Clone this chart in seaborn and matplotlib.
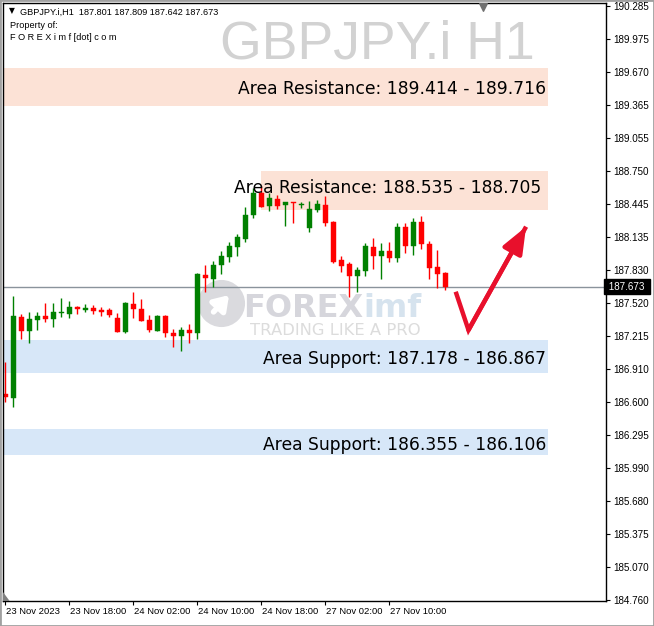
import matplotlib
matplotlib.use("Agg")
import matplotlib.pyplot as plt
import matplotlib.transforms as mtransforms
from matplotlib.patches import Rectangle, Polygon
import pandas as pd
import seaborn as sns

# GBPJPY.i H1 candles (bar 0 = 23 Nov 10:00)
opens = [186.676, 186.634, 187.389, 187.265, 187.364, 187.401, 187.376, 187.432,
         187.423, 187.488, 187.460, 187.476, 187.460, 187.457, 187.383, 187.255,
         187.516, 187.466, 187.364, 187.265, 187.401, 187.240, 187.218, 187.271,
         187.240, 187.783, 187.748, 187.879, 187.953, 188.046, 188.115, 188.341,
         188.543, 188.425, 188.487, 188.434, 188.459, 188.431, 188.217, 188.387,
         188.434, 188.279, 187.922, 187.885, 187.776, 187.823, 188.046, 187.959,
         188.006, 187.944, 188.226, 188.052, 188.279, 188.071, 187.854, 187.801]
highs = [186.976, 187.590, 187.420, 187.436, 187.436, 187.519, 187.525, 187.566,
         187.541, 187.494, 187.513, 187.504, 187.485, 187.473, 187.426, 187.531,
         187.625, 187.559, 187.411, 187.406, 187.406, 187.278, 187.296, 187.327,
         187.798, 187.876, 187.913, 188.009, 188.090, 188.164, 188.418, 188.589,
         188.611, 188.543, 188.527, 188.462, 188.465, 188.459, 188.474, 188.480,
         188.518, 188.285, 187.962, 187.906, 187.854, 188.078, 188.124, 188.083,
         188.092, 188.264, 188.264, 188.316, 188.332, 188.099, 188.015, 187.809]
lows = [186.604, 186.558, 187.187, 187.153, 187.271, 187.348, 187.302, 187.395,
        187.386, 187.417, 187.436, 187.417, 187.401, 187.389, 187.248, 187.246,
        187.380, 187.355, 187.252, 187.262, 187.209, 187.110, 187.079, 187.147,
        187.190, 187.627, 187.668, 187.792, 187.906, 187.959, 188.090, 188.310,
        188.418, 188.381, 188.394, 188.241, 188.269, 188.403, 188.186, 188.372,
        188.241, 187.892, 187.813, 187.575, 187.627, 187.776, 187.836, 187.743,
        187.906, 187.906, 187.990, 187.969, 188.022, 187.743, 187.659, 187.642]
closes = [186.645, 187.401, 187.265, 187.371, 187.401, 187.373, 187.436, 187.438,
          187.485, 187.469, 187.473, 187.451, 187.441, 187.408, 187.250, 187.522,
          187.464, 187.358, 187.271, 187.401, 187.240, 187.215, 187.271, 187.240,
          187.792, 187.758, 187.876, 187.959, 188.052, 188.133, 188.341, 188.543,
          188.418, 188.496, 188.425, 188.459, 188.450, 188.443, 188.394, 188.443,
          188.264, 187.906, 187.866, 187.776, 187.829, 188.055, 187.959, 188.006,
          187.944, 188.226, 188.052, 188.279, 188.071, 187.851, 187.789, 187.673]

x_tick_pos = [0, 8, 16, 24, 32, 40, 48]
x_tick_labels = ["23 Nov 2023", "23 Nov 18:00", "24 Nov 02:00", "24 Nov 10:00",
                 "24 Nov 18:00", "27 Nov 02:00", "27 Nov 10:00"]
y_ticks = [190.285, 189.975, 189.670, 189.365, 189.055, 188.750, 188.445, 188.135,
           187.830, 187.520, 187.215, 186.910, 186.600, 186.295, 185.990, 185.680,
           185.375, 185.070, 184.760]
last_price = 187.673

# support / resistance zones
zone_labels = ["Area Resistance: 189.414 - 189.716", "Area Resistance: 188.535 - 188.705",
               "Area Support: 187.178 - 186.867", "Area Support: 186.355 - 186.106"]
zone_low = [189.355, 188.387, 186.871, 186.108]
zone_high = [189.711, 188.750, 187.178, 186.350]
zone_start = [-5, 31.9, -5, -5]
zone_end = [67.8, 67.8, 67.8, 67.8]
zone_text_x = [67.6, 67.0, 67.6, 67.6]
zone_text_y = [189.462, 188.543, 186.959, 186.159]
zone_colors = ["#fce2d6", "#fce2d6", "#d7e7f8", "#d7e7f8"]

# hand drawn check mark
check_x = [56.3, 57.9, 65.1]
check_y = [187.627, 187.271, 188.232]

df = pd.DataFrame({"open": opens, "high": highs, "low": lows, "close": closes})
df["bar"] = range(len(df))
df["color"] = ["#008000" if c >= o else "#ff0000" for o, c in zip(df["open"], df["close"])]

sns.set_theme(style="white")
plt.rcParams["font.family"] = ["DejaVu Sans"]

fig = plt.figure(figsize=(6.54, 6.26), dpi=100)
ax = fig.add_axes([3 / 654, 1 - 601 / 626, 603 / 654, 598 / 626])
ax.set_facecolor("white")

for lo, hi, x0, x1, col in zip(zone_low, zone_high, zone_start, zone_end, zone_colors):
    ax.add_patch(Rectangle((x0, lo), x1 - x0, hi - lo, facecolor=col, edgecolor="none", zorder=0))

# watermarks
ax.text(0.882, 0.908, "GBPJPY.i H1", transform=ax.transAxes, ha="right", va="baseline",
        fontsize=38.5, family="Liberation Sans", color="#d2d2d2", zorder=0.5)
ax.scatter([0.3615], [0.4983], s=1150, color="#dadade", transform=ax.transAxes, zorder=0.5, lw=0)
ax.annotate("", xy=(0.378, 0.515), xytext=(0.346, 0.480), xycoords="axes fraction",
            arrowprops=dict(arrowstyle="-|>,head_length=0.6,head_width=0.4", lw=4,
                            color="white", mutation_scale=14), zorder=0.6)
forex = ax.text(0.398, 0.4749, "FOREX", transform=ax.transAxes, ha="left", va="baseline",
                fontsize=23, fontweight="bold", color="#d6d6dc", zorder=0.5)
ax.annotate("imf", xy=(1, 0), xycoords=forex, ha="left", va="bottom",
            fontsize=23, fontweight="bold", color="#d6e3ee", zorder=0.5)
ax.text(0.4096, 0.4448, "TRADING LIKE A PRO", transform=ax.transAxes, ha="left", va="baseline",
        fontsize=11.8, color="#dcdcdc", zorder=0.5)

ax.axhline(last_price, color="#8a939c", lw=1, zorder=1)

# candles
ax.vlines(df["bar"], df["low"], df["high"], colors=df["color"], lw=1, zorder=2)
body_low = df[["open", "close"]].min(axis=1)
body_h = (df["close"] - df["open"]).abs().clip(lower=0.008)
ax.bar(df["bar"], body_h, bottom=body_low, width=0.6, color=df["color"],
       edgecolor=df["color"], linewidth=0.3, zorder=2)

for lab, tx, ty in zip(zone_labels, zone_text_x, zone_text_y):
    ax.text(tx, ty, lab, ha="right", va="baseline", fontsize=12.3, color="black", zorder=3)

ax.plot(check_x, check_y, color="#e8102c", lw=3.2, solid_joinstyle="miter",
        solid_capstyle="butt", zorder=4)
ax.annotate("", xy=(check_x[2], check_y[2]), xytext=(check_x[1], check_y[1]),
            arrowprops=dict(arrowstyle="-|>,head_length=0.8,head_width=0.32", lw=3.2,
                            color="#e8102c", mutation_scale=20, shrinkA=0, shrinkB=0),
            zorder=4)

ax.set_xlim(-0.29, 75.09)
ax.set_ylim(184.750, 190.313)

# axes styling
for sp in ax.spines.values():
    sp.set_color("black")
    sp.set_linewidth(1)
ax.yaxis.tick_right()
ax.set_yticks(y_ticks)
ax.set_yticklabels([f"{v:.3f}" for v in y_ticks], fontsize=7.1, family="Liberation Sans")
ax.set_xticks(x_tick_pos)
ax.set_xticklabels(x_tick_labels, fontsize=6.8, family="Liberation Sans", ha="left")
ax.tick_params(axis="y", which="both", right=True, left=False, length=3, width=0.8,
               direction="out", pad=2, colors="black")
ax.tick_params(axis="x", which="both", bottom=True, length=3, width=0.8,
               direction="out", pad=1.5, colors="black")
offset = mtransforms.ScaledTranslation(1 / 100, 0, fig.dpi_scale_trans)
for lab in ax.get_xticklabels():
    lab.set_transform(lab.get_transform() + offset)
ax.grid(False)

# current price tag
ax.text(1.0, last_price, f" {last_price:.3f} ", transform=ax.get_yaxis_transform(),
        ha="left", va="center", fontsize=7.1, family="Liberation Sans", color="white",
        bbox=dict(boxstyle="square,pad=0.25", facecolor="black", edgecolor="black"),
        zorder=5, clip_on=False)

# chart markers
ax.scatter([0.796], [0.993], marker="v", s=30, color="#707070", transform=ax.transAxes,
           clip_on=False, zorder=5)
ax.add_patch(Polygon([(0, 0), (0, 0.015), (0.011, 0)], closed=True, transform=ax.transAxes,
                     facecolor="#808080", edgecolor="none", zorder=5))

# header text
hdr = dict(fontsize=6.6, family="Liberation Sans", color="black", va="center", ha="left")
fig.text(9 / 654, 1 - 11 / 626, "\u25bc", fontsize=5.5, color="black", va="center", ha="left")
fig.text(20 / 654, 1 - 12 / 626, "GBPJPY.i,H1  187.801 187.809 187.642 187.673", **hdr)
fig.text(10 / 654, 1 - 25 / 626, "Property of:", **hdr)
fig.text(10 / 654, 1 - 37 / 626, "F O R E X i m f [dot] c o m", **hdr)

fig.patches.append(Rectangle((0, 0), 1, 1, transform=fig.transFigure, fill=False,
                             edgecolor="#a0a0a0", lw=2))

fig.savefig("out.png", dpi=100)
